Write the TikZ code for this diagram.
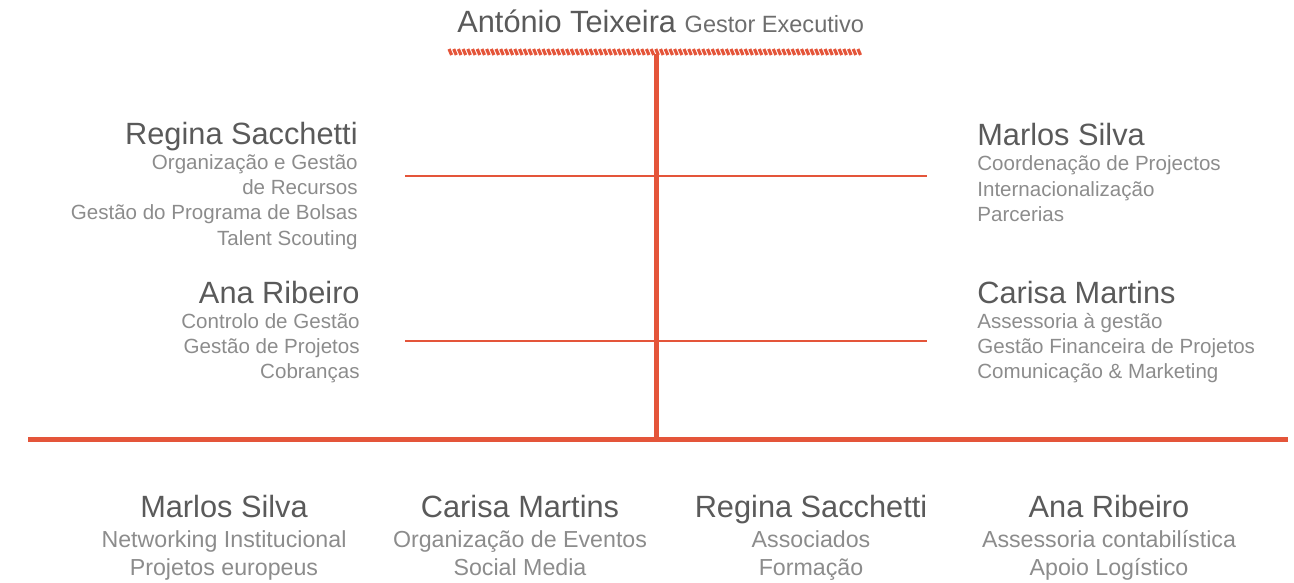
\documentclass[tikz,border=0pt]{standalone}
\usepackage{fontspec}
\setmainfont{Liberation Sans}
\usetikzlibrary{positioning}

\definecolor{orgred}{HTML}{E4553A}
\definecolor{namegray}{HTML}{5A5A5A}
\definecolor{rolegray}{HTML}{6E6E6E}
\definecolor{dutygray}{HTML}{8C8C8C}

\tikzset{
  person/.style={inner sep=0pt, text=namegray, font=\fontsize{17.5}{20}\selectfont},
  duty/.style={inner sep=0pt, text=dutygray, font=\fontsize{11.7}{14}\selectfont},
  bigduty/.style={inner sep=0pt, text=dutygray, font=\fontsize{13.2}{16}\selectfont},
  trunk/.style={orgred, line width=3.4pt},
  branch/.style={orgred, line width=0.85pt}
}

\begin{document}
\begin{tikzpicture}[x=0.02cm,y=-0.02cm]
\useasboundingbox (0,0) rectangle (1294,582);

% head
\node[person, anchor=base west] (at) at (457,32) {António Teixeira};
\node[bigduty, text=rolegray, font=\fontsize{13.4}{16}\selectfont,
  base right=4.5pt of at] (ge) {Gestor Executivo};

% hatched bar under the head
\foreach \x in {449,453.7,...,862}
  \draw[orgred, line width=1.8pt] (\x,49) -- (\x+2.6,55);

% trunk and bottom bar
\coordinate (top) at (656.5,54);
\coordinate (foot) at (656.5,439.5);
\coordinate (bl) at (28,439.5);
\coordinate (br) at (1288,439.5);
\draw[trunk] (top) -- (foot);
\draw[orgred, line width=3.2pt] (bl) -- (br);

% branches
\coordinate (l1) at (405,176);
\coordinate (r1) at (927,176);
\coordinate (l2) at (405,341);
\coordinate (r2) at (927,341);
\draw[branch] (l1) -- (r1);
\draw[branch] (l2) -- (r2);

% left side
\node[person, anchor=base east] (rs) at (358,144) {Regina Sacchetti};
\foreach \t [count=\i] in {Organização e Gestão, de Recursos,
    Gestão do Programa de Bolsas, Talent Scouting}
  \node[duty, anchor=base east] (rs\i) at (358,{144+25.3*\i}) {\t};

\node[person, anchor=base east] (ar) at (360,303) {Ana Ribeiro};
\foreach \t [count=\i] in {Controlo de Gestão, Gestão de Projetos, Cobranças}
  \node[duty, anchor=base east] (ar\i) at (360,{303+25.3*\i}) {\t};

% right side
\node[person, anchor=base west] (ms) at (977,145) {Marlos Silva};
\foreach \t [count=\i] in {Coordenação de Projectos, Internacionalização, Parcerias}
  \node[duty, anchor=base west] (ms\i) at (977,{145+25.5*\i}) {\t};

\node[person, anchor=base west] (cm) at (977,303) {Carisa Martins};
\foreach \t [count=\i] in {Assessoria à gestão, Gestão Financeira de Projetos,
    Comunicação \& Marketing}
  \node[duty, anchor=base west] (cm\i) at (977,{303+25.3*\i}) {\t};

% bottom row
\node[person, anchor=base] (ms-b) at (224,517) {Marlos Silva};
\node[bigduty, anchor=base] (ms-b1) at (224,547) {Networking Institucional};
\node[bigduty, anchor=base] (ms-b2) at (224,575) {Projetos europeus};

\node[person, anchor=base] (cm-b) at (520,517) {Carisa Martins};
\node[bigduty, anchor=base] (cm-b1) at (520,547) {Organização de Eventos};
\node[bigduty, anchor=base] (cm-b2) at (520,575) {Social Media};

\node[person, anchor=base] (rs-b) at (811,517) {Regina Sacchetti};
\node[bigduty, anchor=base] (rs-b1) at (811,547) {Associados};
\node[bigduty, anchor=base] (rs-b2) at (811,575) {Formação};

\node[person, anchor=base] (ar-b) at (1109,517) {Ana Ribeiro};
\node[bigduty, anchor=base] (ar-b1) at (1109,547) {Assessoria contabilística};
\node[bigduty, anchor=base] (ar-b2) at (1109,575) {Apoio Logístico};

\end{tikzpicture}
\end{document}
